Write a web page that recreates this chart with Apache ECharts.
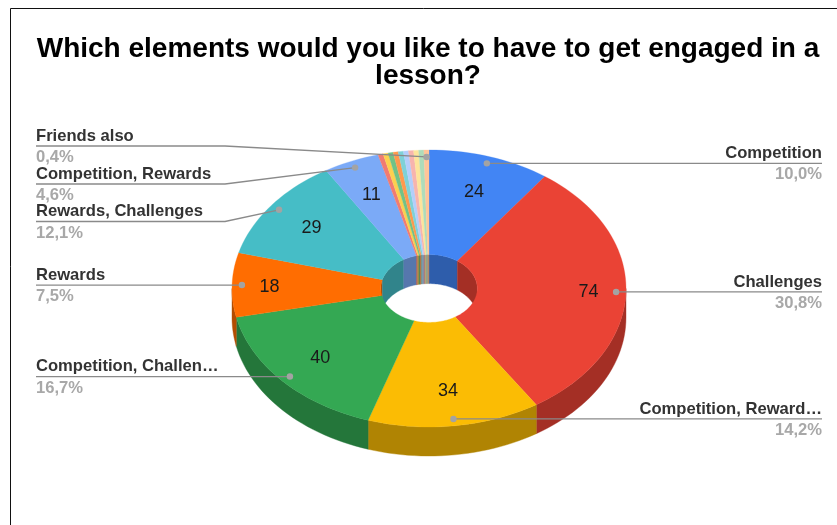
<!DOCTYPE html>
<html>
<head>
<meta charset="utf-8">
<style>html,body{margin:0;padding:0;background:#fff}#chart{width:837px;height:525px}</style>
<script src="https://cdn.jsdelivr.net/npm/echarts@6/dist/echarts.min.js"></script>
</head>
<body>
<div id="chart"></div>
<script>
// Survey answers, clockwise from twelve o'clock.
const categories = [
  'Competition', 'Challenges', 'Competition, Reward…', 'Competition, Challen…',
  'Rewards', 'Rewards, Challenges', 'Competition, Rewards',
  '', '', '', '', '', '', '', '', '', 'Friends also'
];
const answers = [24, 74, 34, 40, 18, 29, 11, 1, 1, 1, 1, 1, 1, 1, 1, 1, 1];
const sliceColors = [
  '#4285f4', '#ea4335', '#fbbc04', '#34a853', '#ff6d01', '#46bdc6', '#7baaf7',
  '#f07b72', '#fcd04f', '#71c287', '#ff994d', '#7ed1d7', '#b3cefb',
  '#f7b4ae', '#fde49b', '#aedcba', '#ffc599'
];
const chartTitle = 'Which elements would you like to have to get engaged in a\nlesson?';

// Answers shown with a number inside the slice.
const valueLabelCount = 7;
// Stacked callouts on the left use a fixed line height instead of the anchor's.
const calloutRows = { 'Friends also': 146, 'Competition, Rewards': 184, 'Rewards, Challenges': 221.5 };
const calloutLeft = 36, calloutBend = 225, calloutRight = 822;

const holeRatio = 0.245, depth = 29, wallShade = 0.7, arcStep = 2;
const total = answers.reduce((a, b) => a + b, 0);
const toAngle = v => v / total * 2 * Math.PI;

let running = 0;
const sliceData = answers.map((v, i) => {
  const item = { name: categories[i], value: [running, running + v, v, i] };
  running += v;
  return item;
});

function shade(hex, k) {
  const n = parseInt(hex.slice(1), 16);
  const c = s => Math.round(((n >> s) & 255) * k);
  return `rgb(${c(16)},${c(8)},${c(0)})`;
}

// A point on the tilted disc: r is a fraction of the radius, a runs clockwise from the top.
const discPoint = (api, r, a, drop) => {
  const p = api.coord([r * Math.sin(a), r * Math.cos(a)]);
  return [p[0], p[1] + (drop || 0)];
};

function arc(api, r, a0, a1, drop) {
  const pts = [];
  const n = Math.max(1, Math.ceil(Math.abs(a1 - a0) / (arcStep * Math.PI / 180)));
  for (let k = 0; k <= n; k++) pts.push(discPoint(api, r, a0 + (a1 - a0) * k / n, drop));
  return pts;
}

const sliceRange = api => [toAngle(api.value(0)), toAngle(api.value(1))];

function wallBand(api, r, from, to, fill) {
  if (to <= from) return null;
  const shape = { points: arc(api, r, from, to, 0).concat(arc(api, r, to, from, depth)) };
  return { type: 'polygon', shape, style: { fill, stroke: fill, lineWidth: 0.4 } };
}

// Outer rim on the near half, inner hole wall on the far half.
function renderWalls(params, api) {
  const [a0, a1] = sliceRange(api);
  const fill = shade(sliceColors[api.value(3)], wallShade);
  const half = Math.PI, full = 2 * Math.PI;
  const parts = [
    wallBand(api, 1, Math.max(a0, half / 2), Math.min(a1, half * 1.5), fill),
    wallBand(api, holeRatio, a0, Math.min(a1, half / 2), fill),
    wallBand(api, holeRatio, Math.max(a0, half * 1.5), Math.min(a1, full), fill)
  ].filter(Boolean);
  return { type: 'group', children: parts };
}

function renderTop(params, api) {
  const [a0, a1] = sliceRange(api);
  const i = api.value(3);
  const fill = sliceColors[i];
  const children = [{
    type: 'polygon',
    shape: { points: arc(api, 1, a0, a1).concat(arc(api, holeRatio, a1, a0)) },
    style: { fill, stroke: fill, lineWidth: 0.3 }
  }];
  if (i < valueLabelCount) {
    const mid = (a0 + a1) / 2;
    // Labels sit a little further out near the wide ends of the ellipse.
    const r = 0.74 + 0.07 * Math.pow(Math.abs(Math.sin(mid)), 12);
    const p = discPoint(api, r, mid);
    children.push({
      type: 'text', z2: 5,
      style: {
        x: p[0], y: p[1] + 1, text: String(api.value(2)), fill: '#1a1a1a',
        font: '18px "Liberation Sans", Arial, sans-serif',
        textAlign: 'center', textVerticalAlign: 'middle'
      }
    });
  }
  return { type: 'group', children };
}

const percentText = v => (v / total * 100).toFixed(1).replace('.', ',') + '%';

function renderCallout(params, api) {
  const name = categories[api.value(3)];
  if (!name) return { type: 'group', children: [] };
  const [a0, a1] = sliceRange(api);
  const mid = (a0 + a1) / 2;
  const anchor = discPoint(api, 0.95, mid);
  const onRight = mid < Math.PI;
  const rowY = calloutRows[name] !== undefined ? calloutRows[name] : anchor[1];
  const textX = onRight ? calloutRight : calloutLeft;
  const points = onRight
    ? [anchor, [calloutRight, rowY]]
    : [anchor, [calloutBend, rowY], [calloutLeft, rowY]];
  const textStyle = (text, y, fill) => ({
    x: textX, y, text, fill,
    font: 'bold 16.6px "Liberation Sans", Arial, sans-serif',
    textAlign: onRight ? 'right' : 'left', textVerticalAlign: 'middle'
  });
  return {
    type: 'group',
    children: [
      { type: 'polyline', shape: { points }, style: { fill: 'none', stroke: '#8a8a8a', lineWidth: 1.3 } },
      { type: 'circle', shape: { cx: anchor[0], cy: anchor[1], r: 3.2 }, style: { fill: '#a3a3a3' } },
      { type: 'text', style: textStyle(name, rowY - 10, '#333333') },
      { type: 'text', style: textStyle(percentText(api.value(2)), rowY + 11.5, '#a8a8a8') }
    ]
  };
}

const chart = echarts.init(document.getElementById('chart'), null, { renderer: 'canvas' });
const customSeries = (renderItem, z) => ({
  type: 'custom', data: sliceData, renderItem, z, silent: true, animation: false, clip: false
});

chart.setOption({
  animation: false,
  backgroundColor: '#ffffff',
  // The axes span the unit circle, so the grid box is the ellipse of the disc's top face.
  grid: { left: 232, top: 150, width: 394, height: 277, containLabel: false },
  xAxis: { type: 'value', min: -1, max: 1, show: false },
  yAxis: { type: 'value', min: -1, max: 1, show: false },
  title: {
    text: chartTitle, left: 423, top: 31, textAlign: 'center',
    textStyle: { fontFamily: '"Liberation Sans", Arial, sans-serif', fontWeight: 'bold', fontSize: 28, lineHeight: 27, color: '#000000' }
  },
  graphic: [
    { type: 'line', shape: { x1: 10.5, y1: 8.5, x2: 837, y2: 8.5 }, style: { stroke: '#111', lineWidth: 1 } },
    { type: 'line', shape: { x1: 10.5, y1: 8.5, x2: 10.5, y2: 525 }, style: { stroke: '#111', lineWidth: 1 } }
  ],
  series: [customSeries(renderWalls, 1), customSeries(renderTop, 2), customSeries(renderCallout, 3)]
});
</script>
</body>
</html>
